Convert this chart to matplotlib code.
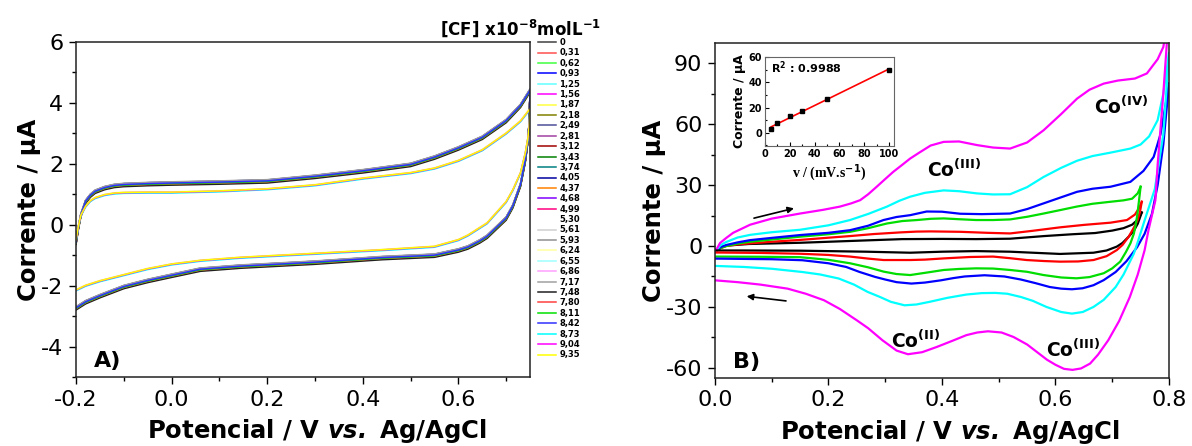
import numpy as np
import matplotlib.pyplot as plt
from matplotlib.ticker import MultipleLocator

plt.rcParams['font.family'] = 'DejaVu Sans'
plt.rcParams['axes.unicode_minus'] = False
plt.rcParams['mathtext.fontset'] = 'custom'
plt.rcParams['mathtext.rm'] = 'DejaVu Sans'
plt.rcParams['mathtext.bf'] = 'DejaVu Sans:bold'
plt.rcParams['mathtext.it'] = 'DejaVu Sans:italic'
plt.rcParams['mathtext.bfit'] = 'DejaVu Sans:italic:bold'

# ---------------- Panel A: CVs for each [CF] ----------------
conc_labels = ['0', '0,31', '0,62', '0,93', '1,25', '1,56', '1,87', '2,18', '2,49', '2,81',
               '3,12', '3,43', '3,74', '4,05', '4,37', '4,68', '4,99', '5,30', '5,61', '5,93',
               '6,24', '6,55', '6,86', '7,17', '7,48', '7,80', '8,11', '8,42', '8,73', '9,04', '9,35']
conc_colors = ['#404040', '#FF5050', '#40FF40', '#0000FF', '#60FFFF', '#FF00FF', '#FFFF40', '#808000',
               '#505098', '#A040A0', '#A00000', '#008000', '#008080', '#0000A0', '#FF8000', '#8000FF',
               '#FF0080', '#FFFFFF', '#D0D0D0', '#909090', '#FFFFA0', '#A0FFFF', '#FFA0FF', '#A0A0A0',
               '#202020', '#FF4040', '#00E000', '#3030FF', '#00FFFF', '#FF00FF', '#FFFF00']
# 1 = curve in the lower-capacitance bundle
conc_group = [0, 0, 0, 0, 0, 0, 0, 0, 0, 0, 0, 0, 0, 0, 0, 0, 0, 0, 0, 0,
              1, 1, 1, 0, 0, 0, 0, 0, 1, 1, 1]
conc_shift = [0.04, 0.02, 0.0, 0.05, -0.02, 0.01, -0.03, 0.03, 0.02, 0.0, 0.01, -0.01, 0.02, 0.04,
              0.03, 0.0, -0.02, 0.0, 0.05, 0.06, 0.02, 0.0, 0.01, 0.05, -0.05, -0.01, 0.0, 0.02,
              -0.02, 0.0, 0.01]

a_fwd_v = [-0.2, -0.195, -0.19, -0.18, -0.17, -0.16, -0.14, -0.12, -0.1, -0.05, 0.0, 0.1, 0.2,
           0.3, 0.4, 0.5, 0.55, 0.6, 0.65, 0.7, 0.73, 0.75]
a_fwd_outer = [-0.6, -0.1, 0.3, 0.75, 0.95, 1.08, 1.2, 1.27, 1.3, 1.33, 1.35, 1.38, 1.42,
               1.57, 1.75, 1.96, 2.2, 2.5, 2.85, 3.4, 3.9, 4.4]
a_fwd_inner = [-0.5, -0.05, 0.3, 0.6, 0.78, 0.88, 0.98, 1.03, 1.05, 1.06, 1.06, 1.1, 1.17,
               1.3, 1.52, 1.7, 1.85, 2.1, 2.45, 3.0, 3.4, 3.8]
a_rev_v = [0.75, 0.748, 0.745, 0.74, 0.73, 0.714, 0.7, 0.68, 0.66, 0.645, 0.62, 0.6, 0.55,
           0.44, 0.3, 0.144, 0.06, 0.0, -0.05, -0.1, -0.15, -0.18, -0.2]
a_rev_outer = [4.4, 3.3, 2.7, 2.1, 1.3, 0.6, 0.2, -0.1, -0.4, -0.55, -0.75, -0.85, -1.02,
               -1.1, -1.25, -1.38, -1.48, -1.68, -1.85, -2.05, -2.35, -2.55, -2.75]
a_rev_inner = [3.8, 3.2, 2.8, 2.35, 1.7, 1.14, 0.75, 0.4, 0.05, -0.1, -0.35, -0.5, -0.72,
               -0.83, -0.95, -1.08, -1.18, -1.3, -1.45, -1.65, -1.85, -2.0, -2.15]

# ---------------- Panel B: CVs at 5, 10, 20, 30, 50, 100 mV/s ----------------
b_colors = ['black', 'red', '#00DD00', 'blue', 'cyan', 'magenta']

b_fwd_v = [
    [0, 0.01, 0.02, 0.06, 0.15, 0.25, 0.33, 0.40, 0.46, 0.52, 0.58, 0.63, 0.67, 0.70, 0.72, 0.735,
     0.745, 0.752],
    [0, 0.01, 0.02, 0.04, 0.062, 0.1, 0.15, 0.2, 0.238, 0.28, 0.326, 0.355, 0.38, 0.432, 0.48, 0.52,
     0.56, 0.608, 0.65, 0.697, 0.726, 0.74, 0.748, 0.752],
    [0, 0.01, 0.02, 0.04, 0.062, 0.1, 0.15, 0.2, 0.238, 0.27, 0.303, 0.33, 0.356, 0.38, 0.403, 0.43,
     0.46, 0.49, 0.52, 0.55, 0.579, 0.61, 0.637, 0.665, 0.697, 0.72, 0.735, 0.745, 0.75],
    [0, 0.01, 0.02, 0.04, 0.062, 0.1, 0.15, 0.2, 0.238, 0.27, 0.297, 0.32, 0.344, 0.373, 0.4, 0.432,
     0.47, 0.52, 0.55, 0.579, 0.61, 0.638, 0.665, 0.697, 0.732, 0.755, 0.773, 0.785, 0.793, 0.8],
    [0, 0.01, 0.02, 0.04, 0.062, 0.1, 0.15, 0.2, 0.238, 0.27, 0.303, 0.325, 0.344, 0.37, 0.403, 0.43,
     0.462, 0.49, 0.52, 0.55, 0.579, 0.61, 0.638, 0.665, 0.697, 0.732, 0.75, 0.765, 0.78, 0.79, 0.8],
    [0, 0.009, 0.02, 0.032, 0.062, 0.1, 0.15, 0.19, 0.22, 0.24, 0.256, 0.27, 0.285, 0.3, 0.314, 0.33,
     0.344, 0.36, 0.38, 0.403, 0.43, 0.462, 0.49, 0.52, 0.55, 0.579, 0.61, 0.638, 0.66, 0.685, 0.71,
     0.74, 0.761, 0.78, 0.79, 0.8],
]
b_fwd_i = [
    [-2, -0.8, 0.2, 1.0, 1.6, 2.6, 3.4, 3.5, 3.4, 3.6, 4.9, 5.8, 6.4, 7.6, 8.8, 10.5, 13, 16.5],
    [-2.5, -1, 0, 0.8, 1.3, 2.1, 3, 4.1, 4.9, 5.9, 6.7, 7.1, 7.2, 7, 6.5, 6.2, 7.5, 9.2, 10.4, 11.5,
     12.8, 15.5, 19, 21.8],
    [-3, -1, 0, 1.2, 2.1, 3.2, 4.6, 5.8, 7, 8.8, 11.1, 12.3, 12.8, 13.4, 13.6, 13.2, 12.8, 12.8, 13.1,
     14.4, 16, 17.8, 19.4, 20.8, 21.8, 22.5, 23.3, 26, 29.2],
    [-3, -0.5, 0.5, 1.8, 2.9, 4, 5.4, 6.5, 7.8, 10, 12.8, 14.3, 15.2, 17.0, 16.9, 15.9, 15.7, 16, 18.2,
     21, 24, 26.7, 28.2, 29.2, 31.6, 37, 43.9, 55, 68, 80],
    [-3, 0.5, 2, 4.2, 5.5, 6.8, 8, 10.2, 12.8, 15.8, 19.4, 22.3, 24.3, 26.2, 27.4, 27, 25.9, 25.4, 25.5,
     29, 34, 38.5, 42, 44.3, 46, 48, 50, 54, 62, 75, 95],
    [-3, 1.5, 4, 6.5, 10.5, 13.5, 16, 17.8, 19.4, 21, 22.6, 25.5, 29.2, 33, 36.5, 40, 43.1, 46, 49.5,
     51.3, 51.5, 49.7, 48.5, 48, 51, 57, 65, 72.6, 77, 80, 81.5, 82.5, 85, 92, 98, 115],
]
b_rev_v = [
    [0.752, 0.745, 0.738, 0.729, 0.718, 0.708, 0.69, 0.667, 0.608, 0.52, 0.46, 0.40, 0.344, 0.267, 0.15,
     0.05, 0],
    [0.752, 0.749, 0.745, 0.738, 0.729, 0.718, 0.708, 0.69, 0.667, 0.64, 0.608, 0.58, 0.549, 0.52, 0.49,
     0.45, 0.403, 0.37, 0.344, 0.297, 0.27, 0.238, 0.2, 0.15, 0.08, 0],
    [0.75, 0.747, 0.744, 0.741, 0.738, 0.732, 0.724, 0.714, 0.7, 0.685, 0.66, 0.637, 0.61, 0.579, 0.55,
     0.52, 0.49, 0.46, 0.43, 0.403, 0.375, 0.344, 0.32, 0.297, 0.27, 0.238, 0.2, 0.15, 0.08, 0],
    [0.8, 0.79, 0.78, 0.77, 0.757, 0.744, 0.725, 0.706, 0.685, 0.667, 0.648, 0.629, 0.61, 0.59, 0.565,
     0.539, 0.51, 0.475, 0.44, 0.42, 0.398, 0.37, 0.346, 0.32, 0.3, 0.282, 0.255, 0.231, 0.2, 0.154,
     0.1, 0],
    [0.8, 0.79, 0.775, 0.757, 0.745, 0.738, 0.72, 0.706, 0.685, 0.667, 0.648, 0.629, 0.61, 0.584, 0.56,
     0.539, 0.515, 0.494, 0.47, 0.443, 0.41, 0.378, 0.355, 0.334, 0.31, 0.29, 0.269, 0.245, 0.218,
     0.185, 0.154, 0.1, 0.05, 0],
    [0.8, 0.79, 0.78, 0.776, 0.764, 0.757, 0.745, 0.731, 0.712, 0.693, 0.675, 0.661, 0.645, 0.63, 0.615,
     0.6, 0.585, 0.571, 0.55, 0.526, 0.505, 0.481, 0.462, 0.443, 0.42, 0.391, 0.365, 0.34, 0.32, 0.295,
     0.27, 0.25, 0.22, 0.192, 0.16, 0.128, 0.08, 0.04, 0],
]
b_rev_i = [
    [16.5, 11, 7.5, 4.6, 1.5, -0.3, -2.2, -3.3, -3.9, -2.8, -2.5, -2.8, -3.3, -2.8, -2.3, -2.2, -2.2],
    [21.8, 17, 13, 9, 4.6, 0.5, -2, -5, -6.9, -7.6, -7.7, -7.4, -6.9, -6, -5.2, -5.4, -6.1, -6.7, -6.9,
     -6.9, -6.2, -5.2, -4.4, -3.8, -3.4, -3.2],
    [29.2, 22, 15, 10, 6, 1.3, -3, -7.7, -11, -13.4, -15.3, -15.9, -15.5, -14.3, -12.7, -11.8, -11.1,
     -11, -11.3, -11.8, -13, -14.3, -13.8, -12.6, -10.5, -8.5, -6.8, -5.5, -5.3, -5.2],
    [80, 50, 30, 15.9, 6, -0.5, -7.5, -12.8, -16.8, -19.3, -20.8, -21.3, -21, -20.2, -18.3, -16.5, -15,
     -14.4, -15, -15.8, -16.9, -18, -18.5, -17.8, -16.5, -15.2, -12.8, -10.3, -8.5, -7, -6.5, -6.2],
    [95, 55, 28, 12.6, 2, -3.8, -14, -20.2, -26.5, -30, -32.5, -33.3, -32.5, -30, -27, -25.1, -23.5,
     -23.1, -23.2, -23.9, -25.5, -27.5, -28.8, -29.2, -27.5, -25, -22.6, -19, -16, -14, -12.8, -11.2,
     -10.3, -9.8],
    [115, 75, 40, 22.5, 8, -2.1, -14, -25.1, -37, -46.4, -53.5, -57.9, -60.3, -61, -60.5, -58.5, -56,
     -53, -48.5, -44.8, -42.6, -42, -42.6, -43.9, -46.5, -49.7, -52.3, -53.3, -51.5, -46.4, -40.5,
     -36.6, -31, -26.7, -23.5, -21, -19, -17.8, -16.9],
]

# inset: peak current vs scan rate
scan_rate = [5, 10, 20, 30, 50, 100]
peak_current = [3, 7.5, 13, 17, 27, 50]

# ---------------- figure ----------------
fig = plt.figure(figsize=(11.92, 4.46), dpi=100)
axA = fig.add_axes([0.0638, 0.1547, 0.3809, 0.7511])
axB = fig.add_axes([0.5998, 0.1525, 0.3809, 0.7511])
axI = fig.add_axes([0.6418, 0.6726, 0.1082, 0.1996])

tick_fs = 16
label_fs = 17.5

handles = []
for lab, col, grp, sh in zip(conc_labels, conc_colors, conc_group, conc_shift):
    fwd = a_fwd_inner if grp else a_fwd_outer
    rev = a_rev_inner if grp else a_rev_outer
    v = np.array(a_fwd_v + a_rev_v)
    cur = np.array(fwd + rev) + sh
    ln, = axA.plot(v, cur, color=col, lw=1.1, label=lab)
    handles.append(ln)

axA.set_xlim(-0.2, 0.75)
axA.set_ylim(-5, 6)
axA.xaxis.set_major_locator(MultipleLocator(0.2))
axA.xaxis.set_minor_locator(MultipleLocator(0.1))
axA.yaxis.set_major_locator(MultipleLocator(2))
axA.yaxis.set_minor_locator(MultipleLocator(1))
axA.set_xlabel(r'Potencial / V $\mathbfit{vs.}$ Ag/AgCl', fontsize=label_fs, fontweight='bold')
axA.xaxis.set_label_coords(0.531, -0.118)
axA.set_ylabel('Corrente / µA', fontsize=label_fs, fontweight='bold', labelpad=0)
axA.text(0.04, 0.03, 'A)', transform=axA.transAxes, fontsize=16, fontweight='bold')

for v, cur, col in zip(b_fwd_v, b_fwd_i, b_colors):
    axB.plot(v, cur, color=col, lw=1.6)
for v, cur, col in zip(b_rev_v, b_rev_i, b_colors):
    axB.plot(v, cur, color=col, lw=1.6)

axB.set_xlim(0, 0.8)
axB.set_ylim(-65, 100)
axB.xaxis.set_major_locator(MultipleLocator(0.2))
axB.xaxis.set_minor_locator(MultipleLocator(0.1))
axB.yaxis.set_major_locator(MultipleLocator(30))
axB.yaxis.set_minor_locator(MultipleLocator(15))
axB.set_xlabel(r'Potencial / V $\mathbfit{vs.}$ Ag/AgCl', fontsize=label_fs, fontweight='bold')
axB.xaxis.set_label_coords(0.518, -0.12)
axB.set_ylabel('Corrente / µA', fontsize=label_fs, fontweight='bold', labelpad=0)
axB.text(0.04, 0.03, 'B)', transform=axB.transAxes, fontsize=16, fontweight='bold')

co_fs = 13.5
axB.text(0.374, 34, r'Co$^{\mathbf{(III)}}$', fontsize=co_fs, fontweight='bold')
axB.text(0.667, 65, r'Co$^{\mathbf{(IV)}}$', fontsize=co_fs, fontweight='bold')
axB.text(0.311, -50, r'Co$^{\mathbf{(II)}}$', fontsize=co_fs, fontweight='bold')
axB.text(0.584, -54.5, r'Co$^{\mathbf{(III)}}$', fontsize=co_fs, fontweight='bold')

arrow_kw = dict(arrowstyle='-|>', color='black', lw=1.2, mutation_scale=9)
axB.annotate('', xy=(0.144, 18.9), xytext=(0.064, 13.4), arrowprops=arrow_kw)
axB.annotate('', xy=(0.051, -24.6), xytext=(0.13, -27.2), arrowprops=arrow_kw)

for ax in (axA, axB):
    ax.tick_params(which='major', direction='out', length=5, width=1, labelsize=tick_fs, pad=4,
                   top=False, right=False)
    ax.tick_params(which='minor', direction='out', length=3, width=1, top=False, right=False)
    for sp in ax.spines.values():
        sp.set_linewidth(1.1)
        sp.set_color('#222222')

# inset
slope, intercept = np.polyfit(scan_rate, peak_current, 1)
fit_x = np.array([scan_rate[0], scan_rate[-1]])
axI.plot(fit_x, slope * fit_x + intercept, color='red', lw=1.2)
axI.plot(scan_rate, peak_current, 's', color='black', ms=3.5)
axI.set_xlim(0, 104)
axI.set_ylim(-10.5, 60)
axI.xaxis.set_major_locator(MultipleLocator(20))
axI.xaxis.set_minor_locator(MultipleLocator(10))
axI.yaxis.set_major_locator(MultipleLocator(20))
axI.yaxis.set_minor_locator(MultipleLocator(10))
axI.tick_params(which='major', direction='in', length=3, width=0.8, labelsize=7, pad=2)
axI.tick_params(which='minor', direction='in', length=1.5, width=0.8)
for lbl in axI.get_xticklabels() + axI.get_yticklabels():
    lbl.set_fontweight('bold')
axI.set_xlabel(r'v / (mV.s$^{\mathbf{-1}}$)', fontsize=10, fontweight='bold',
               family='Liberation Serif', labelpad=2)
axI.set_ylabel('Corrente / µA', fontsize=9, fontweight='bold', labelpad=2)
axI.text(0.05, 0.82, r'R$^{\mathbf{2}}$ : 0.9988', transform=axI.transAxes, fontsize=8, fontweight='bold')
for sp in axI.spines.values():
    sp.set_linewidth(0.8)
    sp.set_color('#666666')

# legend for panel A
leg = fig.legend(handles=handles, loc='upper left', bbox_to_anchor=(538 / 1192, 1 - 38 / 446),
                 frameon=False, prop={'size': 6, 'weight': 'bold'}, handlelength=2.2,
                 handletextpad=0.35, labelspacing=0.17, borderpad=0, borderaxespad=0)
fig.text(521 / 1192, 1 - 28 / 446, r'[CF] x10$^{\mathbf{-8}}$molL$^{\mathbf{-1}}$', fontsize=12,
         fontweight='bold', ha='center', va='center')

fig.savefig('out.png', dpi=100)
